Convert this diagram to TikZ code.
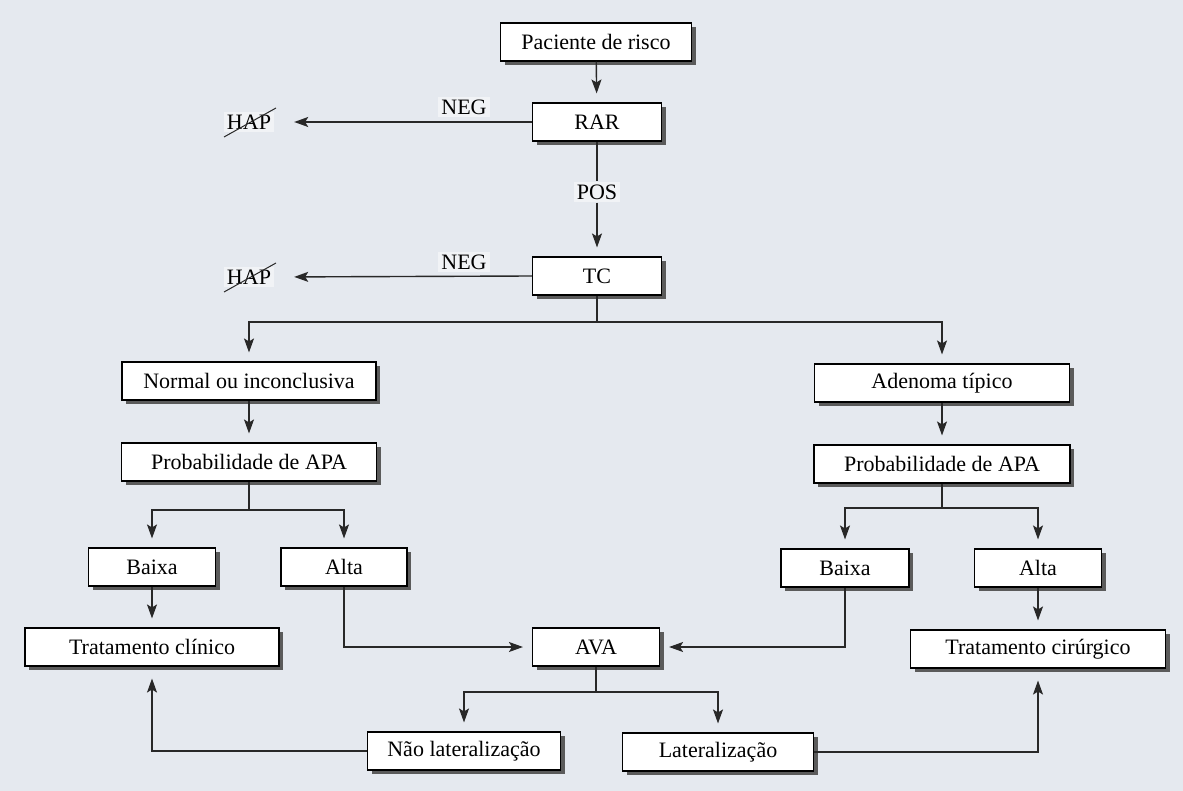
\documentclass[tikz,border=0pt]{standalone}
\usepackage{fontspec}
\setmainfont{Liberation Serif}
\usetikzlibrary{arrows.meta,shadows,calc}
\definecolor{paper}{RGB}{229,233,239}
\definecolor{ink}{RGB}{40,40,40}
\definecolor{labelbg}{RGB}{241,243,246}
\begin{document}
\begin{tikzpicture}[x=1pt,y=-1pt,
  font=\fontsize{22}{25}\selectfont,
  stepbox/.style={draw=black, line width=1.1pt, fill=white, inner sep=0pt,
    minimum height=38pt,
    drop shadow={shadow xshift=4pt, shadow yshift=-4pt, fill=black!70, opacity=0.9}},
  tag/.style={fill=labelbg, inner sep=3pt},
  link/.style={draw=ink, line width=1.4pt},
  flow/.style={link, -{Stealth[length=14pt,width=10pt,inset=3pt]}, shorten >=9pt},
]
% page background
\fill[paper] (0,0) rectangle (1183,791);

% boxes
\node[stepbox, minimum width=191pt] (pac)    at (596,42)  {Paciente de risco};
\node[stepbox, minimum width=129pt] (rar)    at (597,122) {RAR};
\node[stepbox, minimum width=129pt] (tc)     at (597,276) {TC};
\node[stepbox, minimum width=254pt] (norm)   at (249,381) {Normal ou inconclusiva};
\node[stepbox, minimum width=255pt] (aden)   at (942,383) {Adenoma típico};
\node[stepbox, minimum width=255pt] (prob1)  at (249,462) {Probabilidade de APA};
\node[stepbox, minimum width=256pt] (prob2)  at (942,464) {Probabilidade de APA};
\node[stepbox, minimum width=127pt] (baixa1) at (152,567) {Baixa};
\node[stepbox, minimum width=126pt] (alta1)  at (344,567) {Alta};
\node[stepbox, minimum width=128pt] (baixa2) at (845,568) {Baixa};
\node[stepbox, minimum width=127pt] (alta2)  at (1038,568) {Alta};
\node[stepbox, minimum width=254pt] (tclin)  at (152,647) {Tratamento clínico};
\node[stepbox, minimum width=127pt] (ava)    at (596,647) {AVA};
\node[stepbox, minimum width=255pt] (tcir)   at (1038,649) {Tratamento cirúrgico};
\node[stepbox, minimum width=193pt] (naolat) at (464,751) {Não lateralização};
\node[stepbox, minimum width=191pt] (lat)    at (718,752) {Lateralização};

% side labels
\node[tag] (hap1) at (249,122) {HAP};
\node[tag] (hap2) at (249,277) {HAP};
\node[tag] (neg1) at (464,107) {NEG};
\node[tag] (neg2) at (464,262) {NEG};
\node[tag] (pos)  at (597,192) {POS};
\foreach \h in {hap1,hap2}
  \draw[ink, line width=1pt] ($(\h.center)+(-25,15)$) -- ($(\h.center)+(27,-14)$);

% branch points
\coordinate (tcsplit)  at (597,322);
\coordinate (p1split)  at (249,510);
\coordinate (p2split)  at (942,508);
\coordinate (avasplit) at (596,692);

% connectors
\draw[flow] (pac) -- (rar);
\draw[flow, shorten >=20pt] (rar.west) -- (hap1.east);
\draw[link] (rar.south) -- (pos.north);
\draw[flow] (pos.south) -- (tc.north);
\draw[flow, shorten >=20pt] (tc.west) -- (hap2.east);

\draw[link] (tc.south) -- (tcsplit);
\draw[flow] (tcsplit) -| (norm.north);
\draw[flow] (tcsplit) -| (aden.north);
\draw[flow] (norm) -- (prob1);
\draw[flow] (aden) -- (prob2);

\draw[link] (prob1.south) -- (p1split);
\draw[flow] (p1split) -| (baixa1.north);
\draw[flow] (p1split) -| (alta1.north);
\draw[link] (prob2.south) -- (p2split);
\draw[flow] (p2split) -| (baixa2.north);
\draw[flow] (p2split) -| (alta2.north);

\draw[flow] (baixa1) -- (tclin);
\draw[flow] (alta1.south) |- (ava.west);
\draw[flow] (baixa2.south) |- (ava.east);
\draw[flow] (alta2) -- (tcir);

\draw[link] (ava.south) -- (avasplit);
\draw[flow] (avasplit) -| (naolat.north);
\draw[flow] (avasplit) -| (lat.north);
\draw[flow, shorten >=12pt] (naolat.west) -| (tclin.south);
\draw[flow, shorten >=12pt] (lat.east) -| (tcir.south);
\end{tikzpicture}
\end{document}
